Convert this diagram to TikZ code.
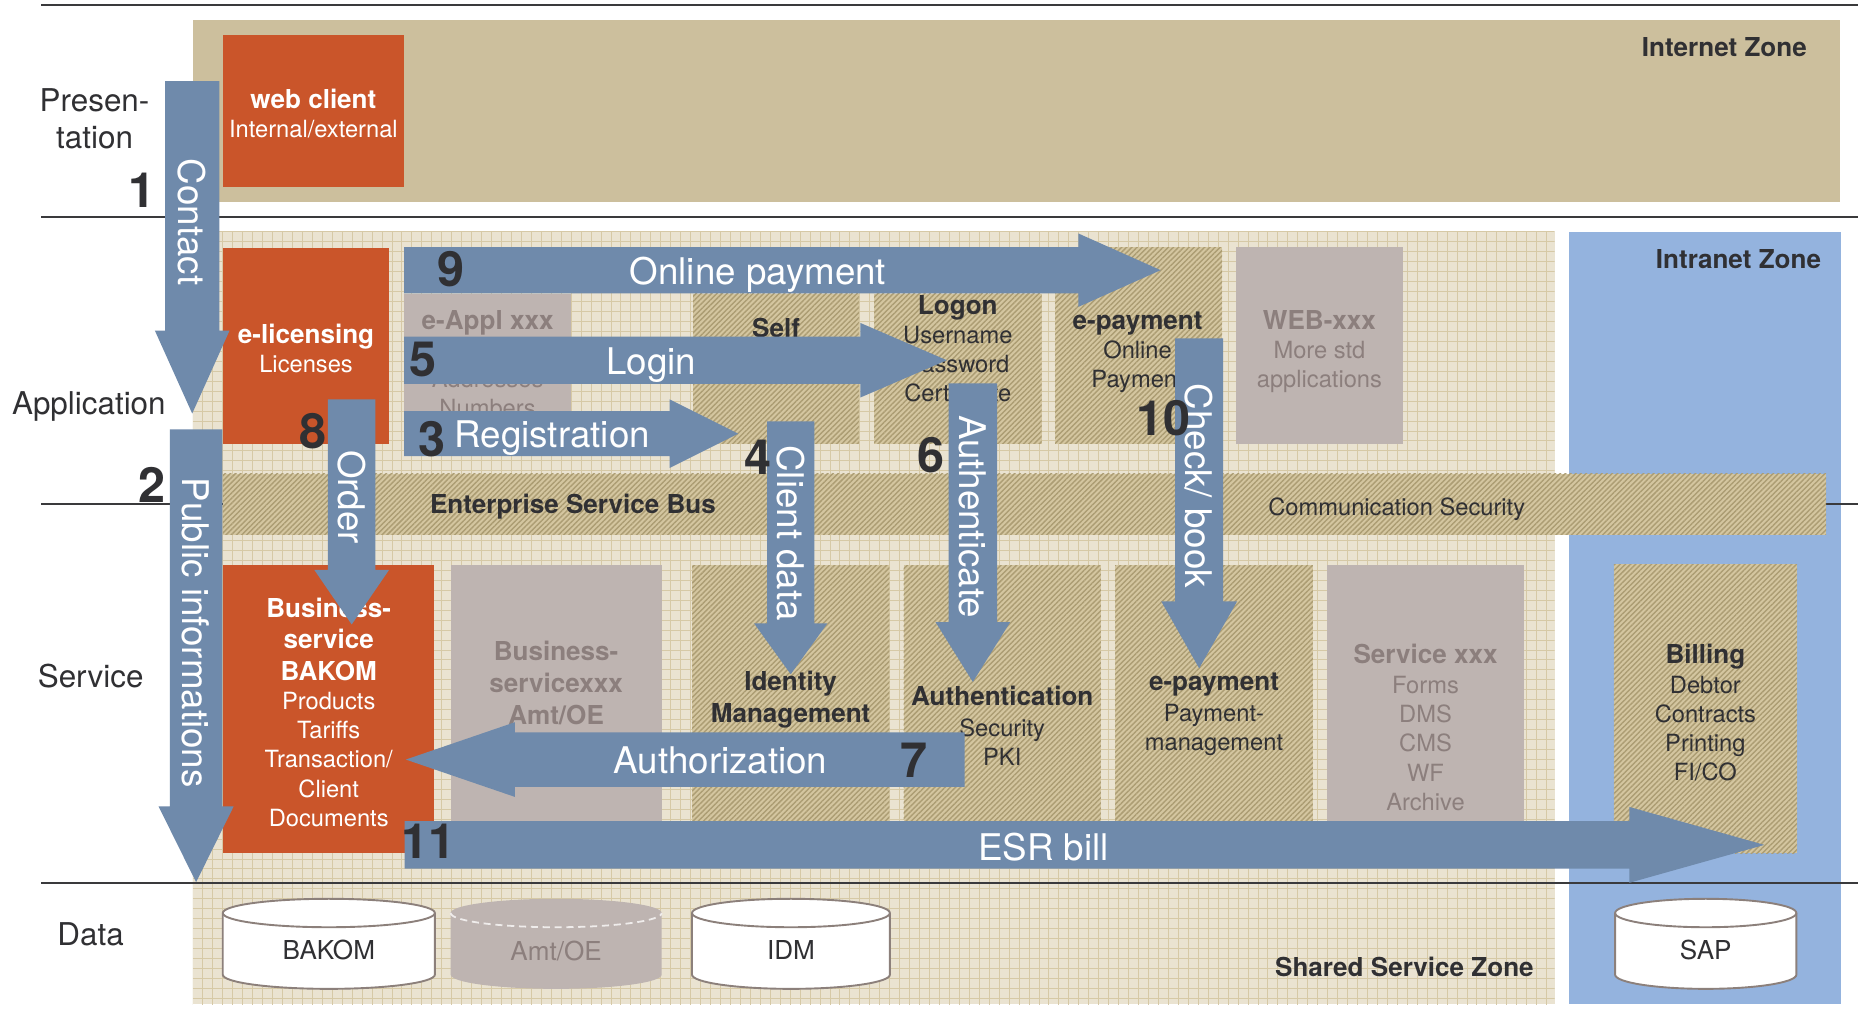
\documentclass[tikz,border=0pt]{standalone}
\usepackage{fontspec}
\setmainfont{TeX Gyre Heros}
\usetikzlibrary{calc,patterns.meta}

\definecolor{cTan}{HTML}{CCBF9D}
\definecolor{cGridBg}{HTML}{EAE3D1}
\definecolor{cGridLine}{HTML}{D6C9A6}
\definecolor{cIntranet}{HTML}{94B3DE}
\definecolor{cOrange}{HTML}{CA552A}
\definecolor{cGrey}{HTML}{BEB4B1}
\definecolor{cGreyText}{HTML}{8C7F7D}
\definecolor{cHatch}{HTML}{D4C6A0}
\definecolor{cHatchLine}{HTML}{AC9D73}
\definecolor{cFlow}{HTML}{6F8AAB}
\definecolor{cInk}{HTML}{303033}
\definecolor{cLine}{HTML}{3A3A3C}
\definecolor{cCyl}{HTML}{8C807B}

% broad flow arrow: tail, tip, shaft half width, head half width, head length
\newcommand\flowarrow[5]{%
  \coordinate (fa-h) at ($(#2)!#5!(#1)$);
  \fill[cFlow] ($(#1)!#3!90:(#2)$) -- ($(fa-h)!#3!90:(#2)$) -- ($(fa-h)!#4!90:(#2)$) -- (#2)
    -- ($(fa-h)!#4!-90:(#2)$) -- ($(fa-h)!#3!-90:(#2)$) -- ($(#1)!#3!-90:(#2)$) -- cycle;}

% database drum: left x, right x, body style, lid rim style
\newcommand\dbcyl[4]{%
  \pgfmathsetmacro\dbrx{(#2-#1)/2}%
  \path[#3] (#1,770.5) -- (#1,822.5)
     arc[start angle=180,end angle=360,x radius=\dbrx pt,y radius=12pt]
     -- (#2,770.5)
     arc[start angle=0,end angle=180,x radius=\dbrx pt,y radius=12pt] -- cycle;
  \path[#4] (#1,770.5) arc[start angle=180,end angle=360,x radius=\dbrx pt,y radius=12pt];}

% stacked centred lines with a fixed pitch
\newcommand\boxlines[1]{\begin{tabular}[t]{@{}c@{}}#1\end{tabular}}
\newcommand\boxhead[1]{{\fontsize{22}{24.5}\selectfont\bfseries #1}}

\begin{document}
\begin{tikzpicture}[x=1pt,y=-1pt,
  zone/.style={rectangle,inner sep=0pt,outer sep=0pt,draw=none},
  panel/.style={rectangle,inner sep=0pt,outer sep=0pt,draw=none},
  orangepanel/.style={panel,fill=cOrange},
  greypanel/.style={panel,fill=cGrey},
  hatchpanel/.style={panel,fill=cHatch,
    postaction={pattern={Lines[angle=45,distance=3.1pt,line width=1.2pt]},pattern color=cHatchLine}},
  layerline/.style={draw=cLine,line width=1.5pt},
  layerlabel/.style={font=\fontsize{26.5}{31}\selectfont,text=cInk,inner sep=0pt,anchor=base},
  zonelabel/.style={font=\bfseries\fontsize{22}{24}\selectfont,text=cInk,inner sep=0pt,anchor=base east},
  stepnum/.style={font=\bfseries\fontsize{41}{41}\selectfont,text=cInk,inner sep=0pt},
  flowlabel/.style={font=\fontsize{31}{31}\selectfont,text=white,inner sep=0pt},
  boxtext/.style={font=\fontsize{20}{24.5}\selectfont,inner sep=0pt,anchor=base},
  dblabel/.style={font=\fontsize{22}{24}\selectfont,inner sep=0pt,anchor=base},
  dbwhite/.style={fill=white,draw=cCyl,line width=1.6pt},
  dbgrey/.style={fill=cGrey},
  rimsolid/.style={draw=cCyl,line width=1.6pt},
  rimdashed/.style={draw=white!75!cGrey,line width=1.5pt,dash pattern=on 6pt off 4pt},
]
\useasboundingbox (0,0) rectangle (1568,857);
\fill[white] (0,0) rectangle (1568,857);

% ---------- zones ----------
\node[zone,fill=cTan,minimum width=1390.3pt,minimum height=153.3pt] (internet) at (857.85,93.65) {};
\node[zone,fill=cGridBg,minimum width=1149.3pt,minimum height=651.9pt] (shared) at (737.35,521.55) {};
\begin{scope}
  \clip (162.7,195.6) rectangle (1312,847.5);
  \begin{scope}[shift={(162.7,195.6)}]
    \draw[cGridLine,line width=0.55pt] (0,660) grid[step=8.4pt] (1160,0);
  \end{scope}
\end{scope}
\node[zone,fill=cIntranet,minimum width=230pt,minimum height=651.5pt] (intranet) at (1439,521.75) {};

% ---------- layer rules ----------
\draw[layerline] (35,4.2) -- (1568,4.2);
\draw[layerline] (35,183) -- (1568,183);
\draw[layerline] (35,425) -- (1568,425);
\draw[layerline] (35,745) -- (1568,745);

% ---------- presentation / application ----------
\node[orangepanel,minimum width=152.7pt,minimum height=128pt] (webclient) at (264.65,93.6) {};
\node[orangepanel,minimum width=140pt,minimum height=165.5pt] (elicensing) at (258.3,291.65) {};
\node[greypanel,minimum width=141pt,minimum height=127pt] (eappl) at (411.5,311.5) {};
\node[hatchpanel,minimum width=140pt,minimum height=126.5pt] (selfbox) at (655,311.25) {};
\node[hatchpanel,minimum width=141.3pt,minimum height=126.5pt] (logon) at (808.35,311.25) {};
\node[hatchpanel,minimum width=141pt,minimum height=165.8pt] (epayapp) at (960.9,291.6) {};
\node[greypanel,minimum width=141pt,minimum height=165.8pt] (webxxx) at (1113.5,291.6) {};

% ---------- bus ----------
\node[hatchpanel,minimum width=1353pt,minimum height=51.3pt] (esb) at (864.5,425.65) {};

% ---------- services ----------
\node[orangepanel,minimum width=178.2pt,minimum height=243pt] (bsbakom) at (277.4,598.5) {};
\node[greypanel,minimum width=178.1pt,minimum height=216pt] (bsxxx) at (469.35,585) {};
\node[hatchpanel,minimum width=166.5pt,minimum height=216pt] (idm) at (667.25,585) {};
\node[hatchpanel,minimum width=166.4pt,minimum height=216pt] (authn) at (845.8,585) {};
\node[hatchpanel,minimum width=167pt,minimum height=216pt] (epaysvc) at (1024.5,585) {};
\node[greypanel,minimum width=166pt,minimum height=216pt] (svcxxx) at (1203,585) {};
\node[hatchpanel,minimum width=154.5pt,minimum height=244pt] (billing) at (1439.25,598) {};

% ---------- data stores ----------
\dbcyl{188}{367}{dbwhite}{rimsolid}
\dbcyl{380.3}{558.4}{dbgrey}{rimdashed}
\dbcyl{584}{751}{dbwhite}{rimsolid}
\dbcyl{1363}{1516}{dbwhite}{rimsolid}
\node[dblabel,text=cInk] (db-bakom) at (277.5,810) {BAKOM};
\node[dblabel,text=cGreyText] (db-amt) at (469.3,810.4) {Amt/OE};
\node[dblabel,text=cInk] (db-idm) at (667.5,809.6) {IDM};
\node[dblabel,text=cInk] (db-sap) at (1439.5,810) {SAP};

% ---------- panel texts ----------
\node[boxtext,text=white] (t-web) at (264.5,91.6) {\boxlines{\boxhead{web client}\\Internal/external}};
\node[boxtext,text=white] (t-elic) at (258.3,289.6) {\boxlines{\boxhead{e-licensing}\\Licenses}};
\node[boxtext,text=cGreyText] (t-eappl) at (411.5,278.1) {\boxlines{\boxhead{e-Appl xxx}\\ \\Addresses\\Numbers}};
\node[boxtext,text=cInk] (t-self) at (655,284.8) {\boxhead{Self}};
\node[boxtext,text=cInk] (t-logon) at (808.3,265.1) {\boxlines{\boxhead{Logon}\\Username\\Password\\Certificate}};
\node[boxtext,text=cInk] (t-epayapp) at (960,278.1) {\boxlines{\boxhead{e-payment}\\Online\\Payment}};
\node[boxtext,text=cGreyText] (t-webxxx) at (1113.5,278.1) {\boxlines{\boxhead{WEB-xxx}\\More std\\applications}};

\node[font=\bfseries\fontsize{22}{24}\selectfont,text=cInk,inner sep=0pt,anchor=base] (t-esb) at (483.5,433) {Enterprise Service Bus};
\node[boxtext,text=cInk] (t-comsec) at (1178.7,434.8) {Communication Security};

\node[boxtext,text=white] (t-bsbakom) at (277.4,521.1) {\boxlines{\boxhead{Business-}\\[2pt]\boxhead{service}\\[2pt]\boxhead{BAKOM}\\[0.5pt]Products\\Tariffs\\Transaction/\\Client\\Documents}};
\node[boxtext,text=cGreyText] (t-bsxxx) at (469.3,557.1) {\boxlines{\boxhead{Business-}\\[2.5pt]\boxhead{servicexxx}\\[2.5pt]\boxhead{Amt/OE}}};
\node[boxtext,text=cInk] (t-idm) at (667.2,582.8) {\boxlines{\boxhead{Identity}\\[2pt]\boxhead{Management}}};
\node[boxtext,text=cInk] (t-authn) at (845.8,595.4) {\boxlines{\boxhead{Authentication}\\[2pt]Security\\PKI}};
\node[boxtext,text=cInk] (t-epaysvc) at (1024.5,582.8) {\boxlines{\boxhead{e-payment}\\[1.5pt]Payment-\\management}};
\node[boxtext,text=cGreyText] (t-svcxxx) at (1203,560.1) {\boxlines{\boxhead{Service xxx}\\[1pt]Forms\\DMS\\CMS\\WF\\Archive}};
\node[boxtext,text=cInk] (t-billing) at (1439.2,559.6) {\boxlines{\boxhead{Billing}\\[1pt]Debtor\\Contracts\\Printing\\FI/CO}};

% ---------- flows ----------
\coordinate (online-s) at (341,228);      \coordinate (online-e) at (979.5,228);
\coordinate (login-s) at (341,304);       \coordinate (login-e) at (799,304);
\coordinate (reg-s) at (341,366);         \coordinate (reg-e) at (623,366);
\coordinate (contact-s) at (162.2,68.4);  \coordinate (contact-e) at (162.2,349);
\coordinate (public-s) at (165.5,362.3);  \coordinate (public-e) at (165.5,744.5);
\coordinate (order-s) at (296.8,337);     \coordinate (order-e) at (296.8,527);
\coordinate (client-s) at (667.3,355.5);  \coordinate (client-e) at (667.3,569);
\coordinate (authn-s) at (821,323.5);     \coordinate (authn-e) at (821,575.5);
\coordinate (check-s) at (1012,285.5);    \coordinate (check-e) at (1012,564);
\coordinate (authz-s) at (814,641);       \coordinate (authz-e) at (342.5,641);
\coordinate (esr-s) at (341.5,713);       \coordinate (esr-e) at (1489,713);

\flowarrow{online-s}{online-e}{19.5pt}{31pt}{69.5pt}
\flowarrow{login-s}{login-e}{20pt}{31.5pt}{73pt}
\flowarrow{reg-s}{reg-e}{19pt}{29pt}{58pt}
\flowarrow{contact-s}{contact-e}{22.9pt}{31.5pt}{70pt}
\flowarrow{public-s}{public-e}{22.2pt}{31.7pt}{64pt}
\flowarrow{order-s}{order-e}{20pt}{31.5pt}{46pt}
\flowarrow{client-s}{client-e}{20pt}{31pt}{43pt}
\flowarrow{authn-s}{authn-e}{20.5pt}{31.5pt}{50.5pt}
\flowarrow{check-s}{check-e}{20.2pt}{32pt}{56.5pt}
\flowarrow{authz-s}{authz-e}{23pt}{31.5pt}{92pt}
\flowarrow{esr-s}{esr-e}{20pt}{32pt}{114pt}

\node[flowlabel,anchor=base] (l-online) at (639.6,240) {Online payment};
\node[flowlabel,anchor=base] (l-login) at (549.8,316) {Login};
\node[flowlabel,anchor=base] (l-reg) at (466,377.5) {Registration};
\node[flowlabel,anchor=base] (l-authz) at (608,652.7) {Authorization};
\node[flowlabel,anchor=base] (l-esr) at (880.5,726.5) {ESR bill};
\node[flowlabel,rotate=-90] (l-contact) at (162.2,187.5) {Contact};
\node[flowlabel,rotate=-90] (l-public) at (165.3,534) {Public informations};
\node[flowlabel,rotate=-90] (l-order) at (297,419.5) {Order};
\node[flowlabel,rotate=-90] (l-client) at (667.5,450) {Client data};
\node[flowlabel,rotate=-90] (l-authn) at (820.7,436) {Authenticate};
\node[flowlabel,rotate=-90] (l-check) at (1012,410) {Check/ book};

% ---------- step numbers ----------
\node[stepnum] (n1) at (120,160.5) {1};
\node[stepnum] (n2) at (128,409.6) {2};
\node[stepnum] (n3) at (364.7,371) {3};
\node[stepnum] (n4) at (639.6,386) {4};
\node[stepnum] (n5) at (356.7,303) {5};
\node[stepnum] (n6) at (785.6,384.5) {6};
\node[stepnum] (n7) at (771.5,641.6) {7};
\node[stepnum] (n8) at (264,364) {8};
\node[stepnum] (n9) at (381,227) {9};
\node[stepnum] (n10) at (981.5,353) {10};
\node[stepnum] (n11) at (361.3,709.6) {11};

% ---------- zone and layer captions ----------
\node[zonelabel] (lab-internet) at (1525,48) {Internet Zone};
\node[zonelabel] (lab-intranet) at (1537,227) {Intranet Zone};
\node[zonelabel] (lab-shared) at (1294.5,824) {Shared Service Zone};
\node[layerlabel] (lab-pres) at (79.8,94.1) {\boxlines{Presen-\\tation}};
\node[layerlabel] (lab-app) at (75,350.2) {Application};
\node[layerlabel] (lab-svc) at (76.5,580.6) {Service};
\node[layerlabel] (lab-data) at (76.5,797.6) {Data};
\end{tikzpicture}
\end{document}
